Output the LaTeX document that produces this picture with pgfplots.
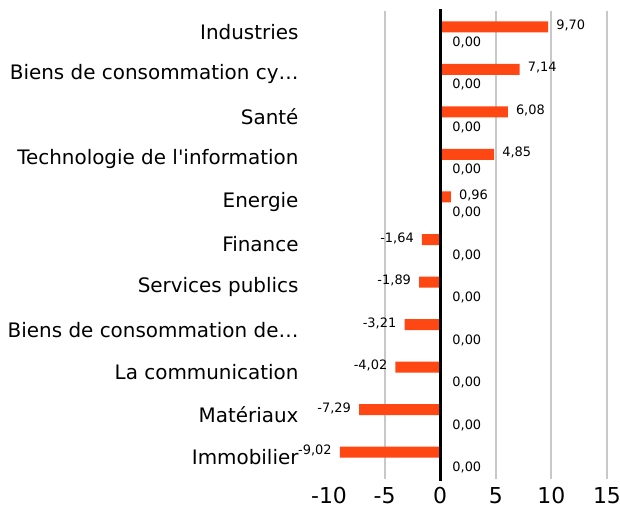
\documentclass[border=0pt]{standalone}
\usepackage{fontspec}
\setmainfont{DejaVu Sans}
\usepackage{pgfplots}
\pgfplotsset{compat=1.18}
\usepackage{pgfplotstable}
\definecolor{barorange}{HTML}{FF4713}
\definecolor{gridgray}{HTML}{C8C8C8}
\pgfplotstableread[col sep=comma]{
idx,val,zero
0,9.70,0
1,7.14,0
2,6.08,0
3,4.85,0
4,0.96,0
5,-1.64,0
6,-1.89,0
7,-3.21,0
8,-4.02,0
9,-7.29,0
10,-9.02,0
}\data
\begin{document}
\begin{tikzpicture}
\useasboundingbox (0,0) rectangle (620bp,511bp);
\begin{axis}[
  at={(329bp,32bp)}, anchor=south west,
  scale only axis, width=278bp, height=468bp,
  xmin=-10, xmax=15, ymin=-0.5, ymax=10.5, y dir=reverse,
  xbar=0pt, bar width=11bp,
  axis line style={draw=none},
  major tick length=0pt,
  clip=false,
  xtick={-10,-5,0,5,10,15},
  ytick={0,...,10},
  yticklabels={{Industries},{Biens de consommation cy…},{Santé},{Technologie de l\textquotesingle information},{Energie},{Finance},{Services publics},{Biens de consommation de…},{La communication},{Matériaux},{Immobilier}},
  extra x ticks={-5,5,10,15}, extra x tick labels={},
  extra x tick style={grid=major, major grid style={gridgray, line width=2bp}},
  /pgf/number format/assume math mode=true,
  yticklabel style={font=\fontsize{20}{22}\selectfont, xshift=-27bp, yshift=0.5bp},
  xticklabel style={font=\fontsize{22}{24}\selectfont, yshift=-5bp},
]
\addplot[fill=barorange, draw=none,
  nodes near coords={\pgfmathprintnumber[use comma,fixed,fixed zerofill,precision=2,assume math mode=true]{\pgfplotspointmeta}},
  every node near coord/.append style={anchor=west, font=\fontsize{13}{14}\selectfont, inner xsep=12bp, inner ysep=0pt, yshift=-4.5bp}]
  table[x=zero, y=idx]{\data};
\addplot[fill=barorange, draw=none,
  nodes near coords={\pgfmathprintnumber[use comma,fixed,fixed zerofill,precision=2,assume math mode=true]{\pgfplotspointmeta}},
  nodes near coords style={font=\fontsize{13}{14}\selectfont, inner xsep=8bp, inner ysep=0pt, yshift=1.5bp}]
  table[x=val, y=idx]{\data};
\draw[black, line width=3bp] (axis cs:0,-0.55) -- (axis cs:0,10.55);
\end{axis}
\end{tikzpicture}
\end{document}
